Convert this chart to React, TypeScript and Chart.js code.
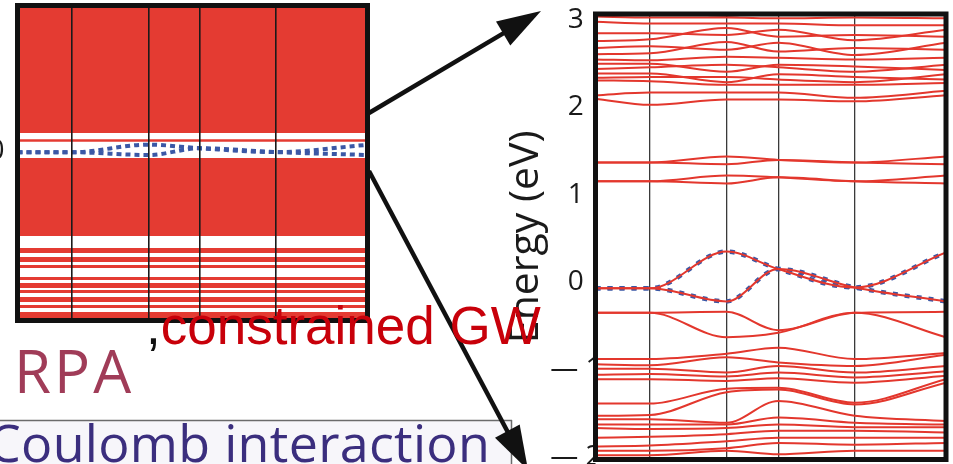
import React, { useEffect, useRef } from "react";
import { Chart, registerables } from "chart.js";

Chart.register(...registerables);

// ---------------- data ----------------
// high-symmetry k-path positions (relative lengths of the five segments)
const kPath = [0, 0.55, 1.32, 1.84, 2.61, 3.53];
const energyTicks = [-2, -1, 0, 1, 2, 3];
const leftTicks = [0];

// target (blue dotted) bands near the Fermi level, eV at each k-point
const targetBandA = [-0.07, -0.07, 0.35, 0.15, -0.06, 0.34];
const targetBandB = [-0.07, -0.07, -0.22, 0.15, -0.06, -0.22];

// isolated conduction bands 1.1 - 1.45 eV
const midBand1 = [1.37, 1.37, 1.44, 1.4, 1.37, 1.44];
const midBand2 = [1.37, 1.37, 1.35, 1.4, 1.37, 1.35];
const midBand3 = [1.155, 1.155, 1.22, 1.2, 1.155, 1.22];
const midBand4 = [1.155, 1.155, 1.13, 1.2, 1.155, 1.13];

// dense conduction manifold 2 - 3 eV
const upperBand1 = [2.1, 2.03, 2.09, 2.09, 2.07, 2.14];
const upperBand2 = [2.14, 2.17, 2.17, 2.17, 2.11, 2.19];
const upperBand3 = [2.31, 2.3, 2.26, 2.26, 2.26, 2.28];
const upperBand4 = [2.34, 2.35, 2.35, 2.32, 2.29, 2.38];
const upperBand5 = [2.39, 2.39, 2.29, 2.38, 2.35, 2.32];
const upperBand6 = [2.44, 2.46, 2.49, 2.46, 2.41, 2.49];
const upperBand7 = [2.5, 2.5, 2.41, 2.49, 2.47, 2.43];
const upperBand8 = [2.55, 2.54, 2.58, 2.57, 2.55, 2.57];
const upperBand9 = [2.61, 2.62, 2.75, 2.64, 2.68, 2.66];
const upperBand10 = [2.68, 2.7, 2.66, 2.74, 2.6, 2.74];
const upperBand11 = [2.76, 2.78, 2.91, 2.81, 2.83, 2.81];
const upperBand12 = [2.85, 2.85, 2.83, 2.89, 2.77, 2.89];
const upperBand13 = [2.98, 2.96, 2.96, 2.96, 2.94, 2.94];
const upperBand14 = [3.04, 3.03, 3.03, 3.02, 3.03, 3.02];
const upperBand15 = [3.1, 3.1, 3.05, 3.1, 3.06, 3.1];

// valence bands just below the target bands
const valBand1 = [-0.35, -0.35, -0.34, -0.55, -0.35, -0.34];
const valBand2 = [-0.35, -0.35, -0.63, -0.58, -0.35, -0.63];

// dense valence manifold -0.75 ... -2 eV
const lowBand1 = [-0.88, -0.88, -0.82, -0.75, -0.88, -0.81];
const lowBand2 = [-0.94, -0.95, -0.86, -0.92, -0.96, -0.83];
const lowBand3 = [-0.99, -0.99, -1.035, -0.96, -1.035, -0.96];
const lowBand4 = [-1.06, -1.05, -1.08, -1.035, -1.09, -1.02];
const lowBand5 = [-1.11, -1.11, -1.13, -1.1, -1.15, -1.07];
const lowBand6 = [-1.39, -1.39, -1.22, -1.21, -1.38, -1.11];
const lowBand7 = [-1.53, -1.52, -1.26, -1.23, -1.4, -1.15];
const lowBand8 = [-1.57, -1.57, -1.61, -1.36, -1.53, -1.59];
const lowBand9 = [-1.63, -1.63, -1.63, -1.55, -1.61, -1.63];
const lowBand10 = [-1.67, -1.68, -1.67, -1.63, -1.66, -1.66];
const lowBand11 = [-1.78, -1.77, -1.74, -1.7, -1.7, -1.72];
const lowBand12 = [-1.88, -1.87, -1.82, -1.78, -1.78, -1.78];
const lowBand13 = [-1.93, -1.93, -1.9, -1.84, -1.86, -1.84];
const lowBand14 = [-1.98, -1.98, -1.93, -1.97, -1.93, -1.93];

// left (full) band structure: energy ranges densely filled with bands [top, bottom]
const leftDenseRanges = [
  [8, 0.99],
  [-0.38, -4.67],
  [-5.33, -5.61],
  [-5.83, -6.1],
  [-6.27, -6.43],
  [-6.93, -7.09],
  [-7.26, -7.53],
  [-7.64, -7.81],
  [-8.03, -8.3],
  [-8.47, -8.63],
  [-8.85, -9.32],
];
const leftSingleBands = [0.58];
const leftFaintGaps = [-0.66, -1.32, -1.7];
const leftClearGaps = [-3.68, -3.96, -4.34];

const redBands = [
  midBand1, midBand2, midBand3, midBand4,
  upperBand1, upperBand2, upperBand3, upperBand4, upperBand5, upperBand6, upperBand7, upperBand8,
  upperBand9, upperBand10, upperBand11, upperBand12, upperBand13, upperBand14, upperBand15,
  valBand1, valBand2,
  lowBand1, lowBand2, lowBand3, lowBand4, lowBand5, lowBand6, lowBand7,
  lowBand8, lowBand9, lowBand10, lowBand11, lowBand12, lowBand13, lowBand14,
];
const targetBands = [targetBandA, targetBandB];

// ---------------- styling ----------------
const RED = "#e3372d";
const LEFT_RED = "#e43b32";
const BLUE = "#3b58a6";
const SANS = "'Open Sans', 'Noto Sans', sans-serif";

const pts = (vals: number[]) => vals.map((y, i) => ({ x: kPath[i], y }));
const flat = (v: number) => [
  { x: kPath[0], y: v },
  { x: kPath[kPath.length - 1], y: v },
];

const framePlugin = {
  id: "frame",
  afterDraw(chart: any) {
    const { left, top, right, bottom } = chart.chartArea;
    const ctx = chart.ctx;
    ctx.save();
    ctx.lineWidth = 5;
    ctx.strokeStyle = "#111";
    ctx.strokeRect(left, top, right - left, bottom - top);
    ctx.restore();
  },
};

function drawArrow(ctx: CanvasRenderingContext2D, x1: number, y1: number, x2: number, y2: number) {
  const head = 44;
  const half = 14;
  const dx = x2 - x1;
  const dy = y2 - y1;
  const L = Math.hypot(dx, dy);
  const ux = dx / L;
  const uy = dy / L;
  const bx = x2 - ux * head;
  const by = y2 - uy * head;
  ctx.lineWidth = 4.5;
  ctx.beginPath();
  ctx.moveTo(x1, y1);
  ctx.lineTo(bx + ux * 4, by + uy * 4);
  ctx.stroke();
  ctx.beginPath();
  ctx.moveTo(x2, y2);
  ctx.lineTo(bx - uy * half, by + ux * half);
  ctx.lineTo(bx + uy * half, by - ux * half);
  ctx.closePath();
  ctx.fill();
}

const decorPlugin = {
  id: "decor",
  beforeDraw(chart: any) {
    const ctx = chart.ctx;
    ctx.save();
    ctx.fillStyle = "#ffffff";
    ctx.fillRect(0, 0, chart.width, chart.height);
    ctx.fillStyle = "#f7f6fa";
    ctx.fillRect(0, 420, 512, 44);
    ctx.strokeStyle = "#6b6b6b";
    ctx.lineWidth = 1.5;
    ctx.beginPath();
    ctx.moveTo(0, 420.5);
    ctx.lineTo(512, 420.5);
    ctx.moveTo(511.5, 420);
    ctx.lineTo(511.5, 464);
    ctx.stroke();
    ctx.restore();
  },
  afterDraw(chart: any) {
    const ctx = chart.ctx;
    ctx.save();
    ctx.strokeStyle = "#111";
    ctx.fillStyle = "#111";
    drawArrow(ctx, 369, 113, 541, 11);
    drawArrow(ctx, 369, 171, 528, 470);
    ctx.restore();
  },
};

function kAxis(gridColor: string, lw: number, gridZ: number) {
  return {
    type: "linear" as const,
    min: kPath[0],
    max: kPath[kPath.length - 1],
    afterBuildTicks: (s: any) => {
      s.ticks = kPath.map((v) => ({ value: v }));
    },
    afterFit: (s: any) => {
      s.height = 0;
      s.paddingLeft = 0;
      s.paddingRight = 0;
    },
    ticks: { display: false },
    grid: { color: gridColor, lineWidth: lw, drawTicks: false, z: gridZ },
    border: { display: false },
  };
}

const fixWidth = (w: number) => (s: any) => {
  s.width = w;
  s.paddingTop = 0;
  s.paddingBottom = 0;
};

export default function App() {
  const rightRef = useRef<HTMLCanvasElement>(null);
  const leftRef = useRef<HTMLCanvasElement>(null);

  useEffect(() => {
    const rightDatasets: any[] = [];
    redBands.forEach((b) =>
      rightDatasets.push({
        data: pts(b),
        borderColor: RED,
        borderWidth: 2,
        pointRadius: 0,
        cubicInterpolationMode: "monotone",
        fill: false,
      })
    );
    targetBands.forEach((b) =>
      rightDatasets.push({
        data: pts(b),
        borderColor: RED,
        borderWidth: 2,
        pointRadius: 0,
        cubicInterpolationMode: "monotone",
        fill: false,
      })
    );
    targetBands.forEach((b) =>
      rightDatasets.push({
        data: pts(b),
        borderColor: BLUE,
        borderWidth: 4.5,
        borderDash: [5, 7],
        borderCapStyle: "butt",
        pointRadius: 0,
        cubicInterpolationMode: "monotone",
        fill: false,
      })
    );

    const right = new Chart(rightRef.current!, {
      type: "line",
      data: { datasets: rightDatasets },
      options: {
        animation: false,
        responsive: false,
        events: [],
        layout: { padding: { left: 501.5, right: 7, top: 14, bottom: 4.5 }, autoPadding: false } as any,
        plugins: { legend: { display: false }, tooltip: { enabled: false } },
        scales: {
          x: kAxis("#3a3a3a", 1.3, -1) as any,
          y: {
            min: -2.03,
            max: 3.07,
            afterBuildTicks: (s: any) => {
              s.ticks = energyTicks.map((v) => ({ value: v }));
            },
            afterFit: fixWidth(94),
            grid: { display: false, drawTicks: false },
            border: { display: false },
            ticks: {
              font: { family: SANS, size: 28 },
              color: "#1a1a1a",
              padding: -6,
              crossAlign: "center",
              callback: (v: any) => (Number(v) < 0 ? "\u2014 " + Math.abs(Number(v)) : String(v)),
            },
            title: {
              display: true,
              text: "Energy (eV)",
              font: { family: SANS, size: 41 },
              color: "#1a1a1a",
              padding: 0,
            },
          } as any,
        },
      },
      plugins: [decorPlugin, framePlugin],
    });

    const leftDatasets: any[] = [];
    leftDenseRanges.forEach(([hi, lo]) =>
      leftDatasets.push({
        data: flat(hi),
        borderWidth: 0,
        borderColor: LEFT_RED,
        backgroundColor: LEFT_RED,
        pointRadius: 0,
        fill: { value: lo },
      })
    );
    leftSingleBands.forEach((v) =>
      leftDatasets.push({ data: flat(v), borderColor: LEFT_RED, borderWidth: 2.5, pointRadius: 0, fill: false })
    );
    leftFaintGaps.forEach((v) =>
      leftDatasets.push({ data: flat(v), borderColor: "rgba(255,235,230,0.45)", borderWidth: 1.5, pointRadius: 0, fill: false })
    );
    leftClearGaps.forEach((v) =>
      leftDatasets.push({ data: flat(v), borderColor: "rgba(255,255,255,0.85)", borderWidth: 1.5, pointRadius: 0, fill: false })
    );
    targetBands.forEach((b) =>
      leftDatasets.push({
        data: pts(b),
        borderColor: BLUE,
        borderWidth: 4,
        borderDash: [5, 4],
        borderCapStyle: "butt",
        pointRadius: 0,
        cubicInterpolationMode: "monotone",
        fill: false,
      })
    );

    const left = new Chart(leftRef.current!, {
      type: "line",
      data: { datasets: leftDatasets },
      options: {
        animation: false,
        responsive: false,
        events: [],
        layout: { padding: { left: 17.5, right: 12.5, top: 5.5, bottom: 9.5 }, autoPadding: false } as any,
        plugins: { legend: { display: false }, tooltip: { enabled: false } },
        scales: {
          x: kAxis("#1a1a1a", 1.6, 1) as any,
          y: {
            min: -9.32,
            max: 8,
            afterBuildTicks: (s: any) => {
              s.ticks = leftTicks.map((v) => ({ value: v }));
            },
            afterFit: fixWidth(40),
            grid: { display: false, drawTicks: false },
            border: { display: false },
            ticks: { font: { family: SANS, size: 28 }, color: "#1a1a1a", padding: 13 },
          } as any,
        },
      },
      plugins: [framePlugin],
    });

    return () => {
      right.destroy();
      left.destroy();
    };
  }, []);

  return (
    <div
      style={{
        position: "fixed",
        left: 0,
        top: 0,
        width: 953,
        height: 464,
        overflow: "hidden",
        background: "#fff",
      }}
    >
      <canvas
        ref={rightRef}
        width={953}
        height={464}
        style={{ position: "absolute", left: 0, top: 0, width: 953, height: 464, zIndex: 0 }}
      />
      <canvas
        ref={leftRef}
        width={420}
        height={330}
        style={{ position: "absolute", left: -40, top: 0, width: 420, height: 330, zIndex: 1 }}
      />
      <div
        style={{
          position: "absolute",
          left: 14,
          top: 340,
          font: `400 60px ${SANS}`,
          lineHeight: "60px",
          letterSpacing: "3px",
          color: "#a03c58",
          whiteSpace: "nowrap",
          zIndex: 2,
        }}
      >
        RPA
      </div>
      <div
        style={{
          position: "absolute",
          left: 146,
          top: 299,
          font: "400 53px 'Liberation Sans', Arial, sans-serif",
          lineHeight: "53px",
          whiteSpace: "nowrap",
          zIndex: 2,
        }}
      >
        <span style={{ color: "#111" }}>,</span>
        <span style={{ color: "#c8000a" }}>constrained GW</span>
      </div>
      <div
        style={{
          position: "absolute",
          left: -12,
          top: 416,
          font: `400 52px ${SANS}`,
          lineHeight: "52px",
          letterSpacing: "0.3px",
          color: "#3b2e7e",
          whiteSpace: "nowrap",
          zIndex: 2,
        }}
      >
        Coulomb interaction
      </div>
    </div>
  );
}
